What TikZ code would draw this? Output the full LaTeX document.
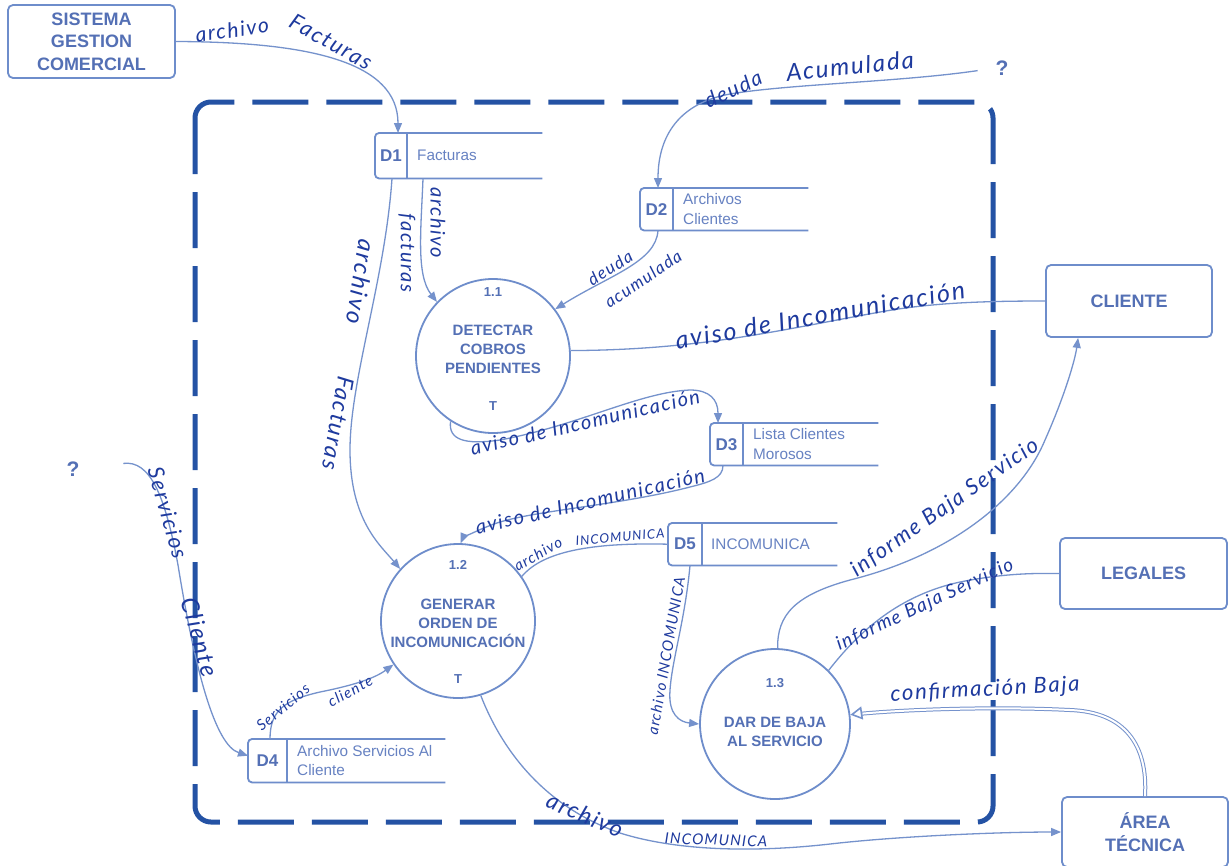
\documentclass[tikz,border=0pt]{standalone}
\usepackage{fontspec}
\setmainfont{Liberation Sans}
\newfontfamily\handfont{Lato}[LetterSpace=8]
\usetikzlibrary{arrows.meta}

\definecolor{boundc}{RGB}{36,82,164}
\definecolor{linec}{RGB}{117,146,204}
\definecolor{shapec}{RGB}{110,141,203}
\definecolor{labelc}{RGB}{84,112,181}
\definecolor{storec}{RGB}{103,130,194}
\definecolor{handc}{RGB}{30,58,158}

\tikzset{
  shapeline/.style={draw=shapec, line width=1.8pt},
  entity/.style={shapeline, rectangle, rounded corners=5pt, align=center, text=labelc,
    font=\bfseries\fontsize{18}{22.5}\selectfont, inner sep=0pt},
  process/.style={shapeline, circle, inner sep=0pt},
  ptitle/.style={text=labelc, font=\bfseries\fontsize{15}{19}\selectfont, align=center, inner sep=0pt},
  pnum/.style={text=labelc, font=\bfseries\fontsize{13}{15}\selectfont, inner sep=0pt},
  storebox/.style={rectangle, draw=none, inner sep=0pt},
  storeid/.style={text=labelc, font=\bfseries\fontsize{17}{20}\selectfont, inner sep=0pt},
  storetext/.style={text=storec, font=\fontsize{15.3}{19.5}\selectfont, align=left, inner sep=0pt},
  flow/.style={draw=linec, line width=1.3pt, -{Triangle[length=10pt,width=8pt]}},
  link/.style={draw=linec, line width=1.3pt},
  hw/.style={text=handc, font=\handfont\itshape\fontsize{#1}{#1}\selectfont, inner sep=0pt},
  qmark/.style={text=labelc, font=\bfseries\fontsize{21}{24}\selectfont, inner sep=0pt},
  boundary/.style={draw=boundc, line width=5pt, rounded corners=16pt, dash pattern=on 56pt off 18pt}
}

% data store: name, left x, top y, width, height, id column width, id
\newcommand\datastore[7]{%
  \node[storebox, minimum width=#4, minimum height=#5, anchor=north west] (#1) at (#2,#3) {};
  \draw[shapeline, rounded corners=4pt] (#1.north east) -- (#1.north west) -- (#1.south west) -- (#1.south east);
  \draw[shapeline] ([xshift=#6]#1.north west) -- ([xshift=#6]#1.south west);
  \node[storeid] (#1-id) at ([xshift=#6/2]#1.west) {#7};
}

\begin{document}
\begin{tikzpicture}[x=1pt, y=-1pt]
\fill[white] (0,0) rectangle (1230,865);
\useasboundingbox (0,0) rectangle (1230,865);

% system boundary
\draw[boundary] (195,102) rectangle (993,822);

% external entities
\node[entity, minimum width=167, minimum height=73] (sgc) at (91.5,41.5) {SISTEMA\\GESTION\\COMERCIAL};
\node[entity, minimum width=166, minimum height=72] (cliente) at (1129,301) {CLIENTE};
\node[entity, minimum width=167, minimum height=71] (legales) at (1143.5,573.5) {LEGALES};
\node[entity, minimum width=166, minimum height=70] (area) at (1145,832) {ÁREA\\TÉCNICA};
\node[qmark] (qright) at (1002,68) {?};
\node[qmark] (qleft) at (73,469) {?};

% processes
\node[process, minimum size=154] (p11) at (493,356) {};
\node[pnum] (p11-n) at (493,292) {1.1};
\node[ptitle] (p11-t) at (493,349) {DETECTAR\\COBROS\\PENDIENTES};
\node[pnum] (p11-x) at (493,406) {T};

\node[process, minimum size=154] (p12) at (458,621) {};
\node[pnum] (p12-n) at (458,565) {1.2};
\node[ptitle] (p12-t) at (458,623) {GENERAR\\ORDEN DE\\INCOMUNICACIÓN};
\node[pnum] (p12-x) at (458,679) {T};

\node[process, minimum size=150] (p13) at (775,724) {};
\node[pnum] (p13-n) at (775,683) {1.3};
\node[ptitle] (p13-t) at (775,731.5) {DAR DE BAJA\\AL SERVICIO};

% data stores
\datastore{d1}{375}{133}{167}{45}{32}{D1}
\node[storetext, anchor=west] (d1-txt) at ([xshift=42]d1.west) {Facturas};
\datastore{d2}{640}{188}{168}{42}{33}{D2}
\node[storetext, anchor=west] (d2-txt) at ([xshift=43]d2.west) {Archivos\\Clientes};
\datastore{d3}{710}{423}{168}{42}{33}{D3}
\node[storetext, anchor=west] (d3-txt) at ([xshift=43]d3.west) {Lista Clientes\\Morosos};
\datastore{d5}{668}{523}{169}{42}{34}{D5}
\node[storetext, anchor=west] (d5-txt) at ([xshift=43]d5.west) {INCOMUNICA};
\datastore{d4}{248}{739}{197}{43}{39}{D4}
\node[storetext, anchor=west] (d4-txt) at ([xshift=49]d4.west) {Archivo Servicios Al\\Cliente};

% data flows
\draw[flow] (sgc.east) .. controls (310,42) and (398,62) .. ([xshift=23]d1.north west);
\draw[flow, shorten <=18pt] (qright.west) .. controls (900,82) and (790,84) .. (730,94)
  .. controls (680,103) and (658,135) .. ([xshift=18]d2.north west);
\draw[flow] ([xshift=48]d1.south west) .. controls (421,230) and (416,275) .. (p11.136);
\draw[flow] ([xshift=17]d1.south west) .. controls (385,280) and (350,380) .. (350,450)
  .. controls (350,520) and (380,545) .. (p12.138);
\draw[flow] ([xshift=18]d2.south west) .. controls (656,262) and (610,275) .. (p11.37);
\draw[link] (p11.4) .. controls (700,350) and (780,330) .. (880,312)
  .. controls (930,303) and (980,301) .. (cliente.west);
\draw[flow] (p11.237) .. controls (448,440) and (465,445) .. (500,440)
  .. controls (580,425) and (640,392) .. (690,390)
  .. controls (710,390) and (718,400) .. ([xshift=8]d3.north west);
\draw[flow] ([xshift=13]d3.south west) .. controls (723,478) and (710,482) .. (690,487)
  .. controls (620,505) and (540,510) .. (500,522)
  .. controls (475,530) and (462,540) .. (p12.88);
\draw[link] (d5.west) .. controls (580,542) and (540,555) .. (p12.35);
\draw[flow] ([xshift=22]d5.south west) .. controls (685,620) and (672,660) .. (670,690)
  .. controls (668,715) and (680,722) .. (p13.west);
\draw[flow] (p13.88) .. controls (777,615) and (795,595) .. (850,580)
  .. controls (950,555) and (1020,500) .. (1045,440)
  .. controls (1065,395) and (1075,360) .. ([xshift=33]cliente.south west);
\draw[link] (p13.45) .. controls (860,630) and (900,595) .. (960,582)
  .. controls (1000,574) and (1030,573) .. (legales.west);
\draw[link, line width=1pt, double=white, double distance=2pt, shorten >=11pt]
  (area.north) .. controls (1148,745) and (1125,712) .. (1070,710)
  .. controls (990,706) and (900,710) .. (p13.7);
\coordinate (cb-tail) at (862,713);
\draw[draw=linec, line width=1.6pt, -{Triangle[open, length=12pt, width=13pt]}] (cb-tail) -- (p13.7);
\draw[flow] (p12.-73) .. controls (500,745) and (540,805) .. (620,833)
  .. controls (680,852) and (760,852) .. (830,844)
  .. controls (900,836) and (1000,832) .. (area.west);
\draw[flow, shorten <=44pt] (qleft.east) .. controls (150,460) and (165,495) .. (178,565)
  .. controls (195,670) and (215,745) .. ([yshift=5]d4.west);
\draw[flow] ([xshift=22]d4.north west) .. controls (270,710) and (285,700) .. (320,692)
  .. controls (355,685) and (375,678) .. (p12.214);

% flow labels
\node[hw=21, rotate=8] (l1) at (232,30) {archivo};
\node[hw=22, rotate=-29] (l2) at (331,42) {Facturas};
\node[hw=21, rotate=25] (l3) at (733,89) {deuda};
\node[hw=24, rotate=6] (l4) at (850,66) {Acumulada};
\node[hw=20, rotate=-90] (l5) at (438,223) {archivo};
\node[hw=20, rotate=-90] (l6) at (407,253) {facturas};
\node[hw=24, rotate=-99] (l7) at (361,282) {archivo};
\node[hw=23, rotate=-100] (l8) at (338,423) {Facturas};
\node[hw=17, rotate=32] (l9) at (610,268) {deuda};
\node[hw=17, rotate=34] (l10) at (643,279) {acumulada};
\node[hw=25, rotate=10] (l11) at (820,315) {aviso de Incomunicación};
\node[hw=20, rotate=13] (l12) at (585,422) {aviso de Incomunicación};
\node[hw=20, rotate=13] (l13) at (590,501) {aviso de Incomunicación};
\node[hw=15, rotate=30] (l14) at (538,554) {archivo};
\node[hw=13, rotate=5] (l15) at (620,537) {INCOMUNICA};
\node[hw=15, rotate=80] (l16) at (666,656) {archivo INCOMUNICA};
\node[hw=22, rotate=35] (l17) at (945,508) {informe Baja Servicio};
\node[hw=19, rotate=25] (l18) at (925,605) {informe Baja Servicio};
\node[hw=22, rotate=3] (l19) at (985,690) {confirmación Baja};
\node[hw=23, rotate=-23] (l20) at (585,815) {archivo};
\node[hw=15, rotate=-2] (l21) at (716,840) {INCOMUNICA};
\node[hw=22, rotate=-74] (l22) at (168,513) {Servicios};
\node[hw=24, rotate=-74] (l23) at (200,637) {Cliente};
\node[hw=15, rotate=40] (l24) at (283,707) {Servicios};
\node[hw=15, rotate=28] (l25) at (350,691) {cliente};
\end{tikzpicture}
\end{document}
